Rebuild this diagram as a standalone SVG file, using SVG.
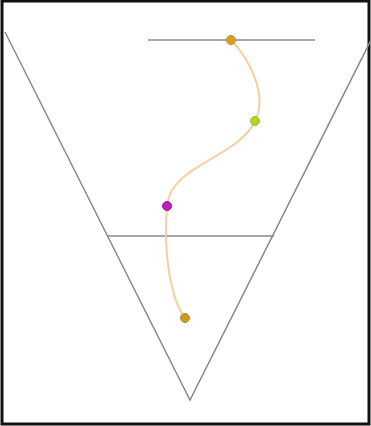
<svg xmlns="http://www.w3.org/2000/svg" width="371" height="426" viewBox="0 0 371 426">
<style>
.ln{stroke:#8a8a8a;stroke-width:1.5;fill:none}
.cv{stroke:#f7cf9f;stroke-width:2;fill:none}
.pt{stroke-width:1}
</style>
<rect x="0" y="0" width="371" height="426" fill="#fff"/>
<g id="frame"><rect x="2" y="1" width="367" height="423" fill="none" stroke="#111" stroke-width="3"/></g>
<g id="connectors">
<path class="ln" d="M5,32 L190,400 L375,32"/>
<line class="ln" x1="108" y1="236" x2="274" y2="236"/>
<line class="ln" x1="148" y1="40" x2="315" y2="40"/>
<path class="cv" d="M231,40 C250,60 268,95 255,121 C238,158 170,165 167,206 C163,250 170,298 185,318"/>
</g>
<g id="p1"><circle class="pt" cx="231" cy="40" r="4.5" fill="#d9a020" stroke="#c08a30"/></g>
<g id="p2"><circle class="pt" cx="255" cy="121" r="4.5" fill="#b8d41c" stroke="#a0b840"/></g>
<g id="p3"><circle class="pt" cx="167" cy="206" r="4.5" fill="#c41fb8" stroke="#a01898"/></g>
<g id="p4"><circle class="pt" cx="185" cy="318" r="4.5" fill="#d9961c" stroke="#8aa040"/></g>
</svg>
